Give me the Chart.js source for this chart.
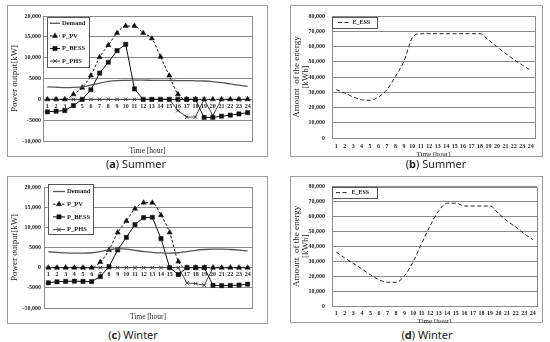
<!DOCTYPE html>
<html>
<head>
<meta charset="utf-8">
<script src="https://cdn.jsdelivr.net/npm/chart.js@4.4.0/dist/chart.umd.min.js"></script>
<style>
  html, body { margin: 0; padding: 0; background: #fff; }
  body { width: 550px; height: 342px; position: relative; overflow: hidden; }
  canvas { position: absolute; }
  .cap { position: absolute; font-family: "Noto Sans", sans-serif; font-size: 11px; color: #222;
         transform: translate(-50%, -50%); white-space: nowrap; }
</style>
</head>
<body>
<canvas id="cA" width="261" height="152" style="left:7px;top:5px;width:261px;height:152px"></canvas>
<canvas id="cB" width="253" height="152" style="left:290px;top:5px;width:253px;height:152px"></canvas>
<canvas id="cC" width="261" height="148" style="left:7px;top:176px;width:261px;height:148px"></canvas>
<canvas id="cD" width="253" height="147" style="left:290px;top:176px;width:253px;height:147px"></canvas>
<div class="cap" style="left:136px;top:163px">(<b>a</b>) Summer</div>
<div class="cap" style="left:436px;top:163px">(<b>b</b>) Summer</div>
<div class="cap" style="left:133px;top:334px">(<b>c</b>) Winter</div>
<div class="cap" style="left:427px;top:334px">(<b>d</b>) Winter</div>
<script>
// data
var hours = ['1', '2', '3', '4', '5', '6', '7', '8', '9', '10', '11', '12',
             '13', '14', '15', '16', '17', '18', '19', '20', '21', '22', '23', '24'];
var yTicksPower = ['-10,000', '-5000', '0', '5000', '10,000', '15,000', '20,000'];
var yTicksEnergy = ['0', '10,000', '20,000', '30,000', '40,000', '50,000', '60,000', '70,000', '80,000'];

var demandSummer = [3000, 2900, 2800, 2850, 3000, 3400, 3900, 4300, 4500, 4550, 4600, 4600,
                    4550, 4550, 4550, 4500, 4500, 4450, 4400, 4250, 4000, 3700, 3400, 3100];
var pvSummer = [0, 0, 0, 1200, 2800, 5700, 10100, 13000, 15900, 17600, 17600, 15900,
                14600, 10200, 5700, 1200, 0, 0, 0, 0, 0, 0, 0, 0];
var bessSummer = [-3000, -2850, -2700, -1500, 0, 2300, 6300, 8900, 11700, 13200, 2500, 0,
                  0, 0, 0, 0, 0, 0, -4350, -4350, -4050, -3800, -3500, -3200];
var phsSummer = [0, 0, 0, 0, 0, 0, 0, 0, 0, 0, 0, 0,
                 0, 0, 0, -2700, -4250, -4250, 0, -3900, 0, 0, 0, 0];

var demandWinter = [3950, 3800, 3650, 3600, 3600, 3700, 4000, 4400, 4700, 4600, 4300, 4000,
                    3800, 3650, 3600, 3700, 4000, 4300, 4500, 4600, 4600, 4500, 4350, 4150];
var pvWinter = [0, 0, 0, 0, 0, 0, 1400, 4400, 8700, 11600, 14600, 16100,
                16100, 13000, 8700, 1500, 0, 0, 0, 0, 0, 0, 0, 0];
var bessWinter = [-3750, -3500, -3400, -3350, -3400, -3450, -2200, 250, 4400, 7500, 10700, 12400,
                  12500, 7200, 0, -1700, 0, 0, 0, -4400, -4450, -4400, -4300, -4100];
var phsWinter = [0, 0, 0, 0, 0, 0, 0, 0, 0, 0, 0, 0,
                 0, 0, 0, 0, -3800, -3950, -4350, 0, 0, 0, 0, 0];

var essSummer = [31700, 29500, 26900, 25100, 24700, 26900, 31700, 40400, 50300, 65800, 68400, 68400,
                 68400, 68400, 68400, 68400, 68400, 68400, 64300, 59800, 55500, 51500, 47800, 44400];
var essWinter = [36100, 32200, 28500, 24800, 20900, 17600, 15900, 15900, 20400, 29600, 42000, 53900,
                 63900, 68900, 68900, 67000, 67000, 67000, 67000, 62000, 57000, 53000, 48500, 44500];

Chart.defaults.font.family = "'Liberation Serif', serif";
Chart.defaults.color = '#222';

var tickFont = { family: "'Liberation Serif'", size: 6, weight: 'bold' };

// outer frame + plot border
var framePlugin = {
    id: 'frame',
    beforeDraw: function (chart) {
        var ctx = chart.ctx;
        ctx.save();
        ctx.setLineDash([]);
        ctx.strokeStyle = '#9c9c9c';
        ctx.lineWidth = 1;
        ctx.strokeRect(0.5, 0.5, chart.width - 1, chart.height - 1);
        ctx.restore();
    },
    afterDatasetsDraw: function (chart) {
        var ctx = chart.ctx, a = chart.chartArea;
        ctx.save();
        ctx.setLineDash([]);
        ctx.strokeStyle = '#8a8a8a';
        ctx.lineWidth = 1;
        ctx.strokeRect(Math.round(a.left) + 0.5, Math.round(a.top) + 0.5,
            Math.round(a.right - a.left), Math.round(a.bottom - a.top));
        ctx.restore();
    }
};

// legend in a box inside the plot
var boxLegend = {
    id: 'boxLegend',
    afterDraw: function (chart, args, o) {
        var ctx = chart.ctx, a = chart.chartArea;
        var bx = Math.round(a.left + o.bx), by = Math.round(a.top + o.by);
        ctx.save();
        ctx.setLineDash([]);
        ctx.fillStyle = '#fff';
        ctx.fillRect(bx, by, o.bw, o.bh);
        ctx.strokeStyle = '#555';
        ctx.lineWidth = 1;
        ctx.strokeRect(bx + 0.5, by + 0.5, o.bw, o.bh);
        ctx.font = 'bold ' + o.fs + 'px "Liberation Serif"';
        ctx.textBaseline = 'middle';
        chart.data.datasets.forEach(function (ds, i) {
            var y = a.top + o.rowY + i * o.rowH;
            var x0 = a.left + o.s0, x1 = a.left + o.s1;
            ctx.strokeStyle = ds.borderColor;
            ctx.lineWidth = ds.borderWidth;
            ctx.setLineDash(ds.borderDash || []);
            ctx.beginPath();
            ctx.moveTo(x0, y);
            ctx.lineTo(x1, y);
            ctx.stroke();
            ctx.setLineDash([]);
            if (ds.pointRadius) {
                ctx.fillStyle = ds.pointBackgroundColor;
                ctx.strokeStyle = ds.pointBorderColor;
                ctx.lineWidth = ds.pointBorderWidth;
                Chart.helpers.drawPoint(ctx, {
                    pointStyle: ds.pointStyle, radius: ds.pointRadius,
                    borderWidth: ds.pointBorderWidth, rotation: 0
                }, (x0 + x1) / 2, y);
            }
            ctx.fillStyle = '#222';
            ctx.fillText(ds.label, a.left + o.tx, y);
        });
        ctx.restore();
    }
};

function powerChart(id, demand, pv, bess, phs, cfg) {
    return new Chart(document.getElementById(id), {
        type: 'line',
        data: {
            labels: hours,
            datasets: [{
                label: 'Demand', data: demand,
                borderColor: '#555', borderWidth: 1.3, pointRadius: 0,
                cubicInterpolationMode: 'monotone'
            }, {
                label: 'P_PV', data: pv,
                borderColor: '#111', borderWidth: 1, borderDash: [2.5, 2],
                pointStyle: 'triangle', pointRadius: 3, pointBorderWidth: 0.5,
                pointBackgroundColor: '#111', pointBorderColor: '#111',
                cubicInterpolationMode: 'monotone'
            }, {
                label: 'P_BESS', data: bess,
                borderColor: '#111', borderWidth: 1,
                pointStyle: 'rect', pointRadius: 3, pointBorderWidth: 0.5,
                pointBackgroundColor: '#111', pointBorderColor: '#111'
            }, {
                label: 'P_PHS', data: phs,
                borderColor: '#333', borderWidth: 0.9,
                pointStyle: 'crossRot', pointRadius: 2.5, pointBorderWidth: 0.9,
                pointBackgroundColor: '#333', pointBorderColor: '#333'
            }]
        },
        options: {
            responsive: false,
            devicePixelRatio: 1,
            animation: false,
            layout: { padding: { top: cfg.top, right: cfg.right, left: 0, bottom: 0 } },
            plugins: {
                legend: { display: false },
                tooltip: { enabled: false },
                boxLegend: cfg.legend
            },
            scales: {
                x: {
                    type: 'category', position: { y: 0 }, offset: true,
                    grid: { display: false, drawTicks: false }, border: { display: false },
                    ticks: { font: tickFont, padding: 3.4, autoSkip: false, maxRotation: 0, color: '#222' }
                },
                x2: {
                    type: 'category', axis: 'x', position: 'bottom', offset: true,
                    grid: { display: false, drawTicks: false }, border: { display: false },
                    ticks: { display: false },
                    title: {
                        display: true, text: 'Time [hour]', color: '#222',
                        font: { family: "'Liberation Serif'", size: 7.5, lineHeight: 1 },
                        padding: { top: 0, bottom: cfg.xpb }
                    },
                    afterFit: function (s) { s.height = cfg.xh; }
                },
                y: {
                    min: -10000, max: 20000,
                    ticks: {
                        stepSize: 5000, font: tickFont, padding: cfg.yp, color: '#222',
                        callback: function (v, i) { return yTicksPower[i]; }
                    },
                    grid: { color: '#8a8a8a', drawTicks: false },
                    border: { display: false },
                    title: {
                        display: true, text: 'Power output[kW]', color: '#222',
                        font: { family: "'Liberation Serif'", size: 9, lineHeight: 1 },
                        padding: { top: 3.5, bottom: 0 }
                    },
                    afterFit: function (s) { s.width = cfg.yw; }
                }
            }
        },
        plugins: [framePlugin, boxLegend]
    });
}

function energyChart(id, ess, cfg) {
    return new Chart(document.getElementById(id), {
        type: 'line',
        data: {
            labels: hours,
            datasets: [{
                label: 'E_ESS', data: ess,
                borderColor: '#222', borderWidth: 1, borderDash: [4, 2.5], pointRadius: 0,
                cubicInterpolationMode: 'monotone'
            }]
        },
        options: {
            responsive: false,
            devicePixelRatio: 1,
            animation: false,
            layout: { padding: { top: cfg.top, right: cfg.right, left: 0, bottom: 0 } },
            plugins: {
                legend: { display: false },
                tooltip: { enabled: false },
                boxLegend: cfg.legend
            },
            scales: {
                x: {
                    type: 'category', position: 'bottom', offset: true,
                    grid: { display: false, drawTicks: false }, border: { display: false },
                    ticks: { font: tickFont, padding: cfg.xp, autoSkip: false, maxRotation: 0, color: '#222' },
                    title: {
                        display: true, text: 'Time [hour]', color: '#222',
                        font: { family: "'Liberation Serif'", size: 7, lineHeight: 1 },
                        padding: { top: 0, bottom: cfg.xpb }
                    },
                    afterFit: function (s) { s.height = cfg.xh; }
                },
                y: {
                    min: 0, max: 80000,
                    ticks: {
                        stepSize: 10000, font: tickFont, padding: 7, color: '#222',
                        callback: function (v, i) { return yTicksEnergy[i]; }
                    },
                    grid: { color: '#8a8a8a', drawTicks: false },
                    border: { display: false },
                    title: {
                        display: true, text: ['Amount  of the energy', '[kWh]'], color: '#222',
                        font: { family: "'Liberation Serif'", size: 9, lineHeight: 1 },
                        padding: { top: 2.5, bottom: 0 }
                    },
                    afterFit: function (s) { s.width = 42; }
                }
            }
        },
        plugins: [framePlugin, boxLegend]
    });
}

powerChart('cA', demandSummer, pvSummer, bessSummer, phsSummer, {
    top: 11, right: 16, yw: 36, yp: 2, xh: 16, xpb: 2.25,
    legend: { bx: 4, by: 1, bw: 42, bh: 50, rowY: 7.3, rowH: 12.6, s0: 7, s1: 17, tx: 19, fs: 6.5 }
});
energyChart('cB', essSummer, {
    top: 11, right: 8, xh: 19, xp: 4.4, xpb: -0.5,
    legend: { bx: 0, by: 1, bw: 45, bh: 11, rowY: 6.5, rowH: 0, s0: 6, s1: 18, tx: 20.5, fs: 6 }
});
powerChart('cC', demandWinter, pvWinter, bessWinter, phsWinter, {
    top: 11, right: 16, yw: 37, yp: 3, xh: 16, xpb: 3.5,
    legend: { bx: 4, by: -3, bw: 45, bh: 50, rowY: 4.5, rowH: 12.7, s0: 9, s1: 21, tx: 23, fs: 6.5 }
});
energyChart('cD', essWinter, {
    top: 8, right: 6, xh: 17, xp: 4.1, xpb: -1.5,
    legend: { bx: 0, by: 0, bw: 45, bh: 11, rowY: 6, rowH: 0, s0: 4, s1: 17, tx: 19.5, fs: 6 }
});
</script>
</body>
</html>
